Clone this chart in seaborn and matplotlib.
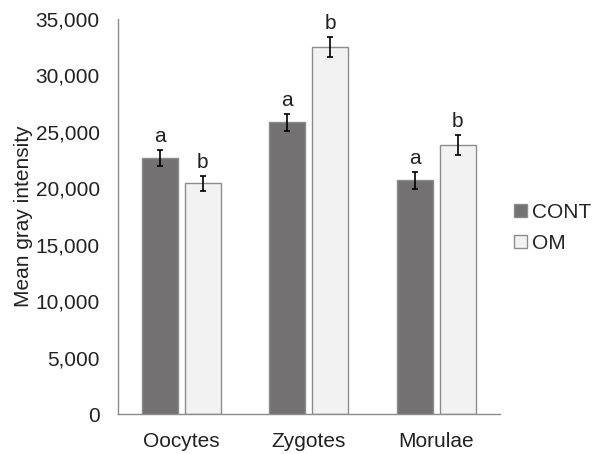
import seaborn as sns
import matplotlib.pyplot as plt
import pandas as pd

# values
stages = ["Oocytes", "Zygotes", "Morulae"]
groups = ["CONT", "OM"]
cont_mean = [22700, 25850, 20700]
om_mean = [20450, 32550, 23850]
cont_err = [700, 770, 750]
om_err = [650, 890, 890]
cont_letters = ["a", "a", "a"]
om_letters = ["b", "b", "b"]

df = pd.DataFrame({
    "Stage": stages * 2,
    "Group": [groups[0]] * 3 + [groups[1]] * 3,
    "Value": cont_mean + om_mean,
})

sns.set_style("white")
plt.rcParams["font.family"] = ["Liberation Sans", "DejaVu Sans"]

fig = plt.figure(figsize=(5.95, 4.54), dpi=100)
ax = fig.add_axes([0.198, 0.088, 0.642, 0.870])

sns.barplot(data=df, x="Stage", y="Value", hue="Group", order=stages,
            hue_order=groups, palette=["#747070", "#f2f2f2"],
            width=0.674, gap=0.16, errorbar=None,
            edgecolor="#8c8c8c", linewidth=1.0, ax=ax)

errs = [cont_err, om_err]
means = [cont_mean, om_mean]
letters = [cont_letters, om_letters]
bar_groups = list(ax.containers)
for k, cont in enumerate(bar_groups):
    xs = [p.get_x() + p.get_width() / 2 for p in cont.patches]
    ax.errorbar(xs, means[k], yerr=errs[k], fmt="none", ecolor="black",
                elinewidth=1.2, capsize=2.5, capthick=1.2)
    for x, m, e, t in zip(xs, means[k], errs[k], letters[k]):
        ax.text(x, m + e + 350, t, ha="center", va="bottom", fontsize=15,
                color="#222222")

ax.set_ylim(0, 35000)
ax.set_xlim(-0.5, 2.5)
ax.set_yticks(range(0, 35001, 5000))
ax.set_yticklabels([f"{v:,}" for v in range(0, 35001, 5000)])
ax.tick_params(axis="both", length=0, pad=13, labelsize=15, colors="#222222")
ax.set_xlabel("")
ax.set_ylabel("Mean gray intensity", fontsize=15, color="#222222", labelpad=2)

for s in ["top", "right"]:
    ax.spines[s].set_visible(False)
for s in ["left", "bottom"]:
    ax.spines[s].set_color("#8c8c8c")
    ax.spines[s].set_linewidth(1.0)

ax.legend(loc="center left", bbox_to_anchor=(0.864, 0.498),
          bbox_transform=fig.transFigure, frameon=False, fontsize=15,
          handlelength=0.6, handleheight=0.6, handletextpad=0.25,
          labelspacing=0.55, borderaxespad=0, borderpad=0)

fig.savefig("out.png", dpi=100)
